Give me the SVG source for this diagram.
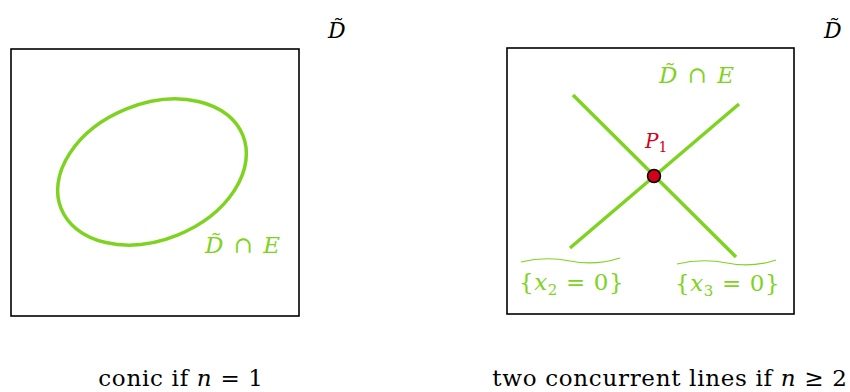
<svg xmlns="http://www.w3.org/2000/svg" width="850" height="392" viewBox="0 0 850 392">
<style>
.box{fill:none;stroke:#000;stroke-width:1.6}
.g{fill:none;stroke:#7ed321;stroke-width:3.5;stroke-linecap:butt}
.gt{fill:#7ed321;font-family:"DejaVu Serif",serif;font-size:23px}
.bt{fill:#000;font-family:"DejaVu Serif",serif;font-size:22px}
.cap{fill:#000;font-family:"DejaVu Serif",serif;font-size:23px;letter-spacing:0.7px}
.i{font-style:italic}
.wave{fill:none;stroke:#7ed321;stroke-width:1.2}
</style>
<g id="left-panel">
<rect class="box" x="11" y="49" width="288" height="267"/>
<ellipse class="g" cx="152" cy="172" rx="98" ry="68" transform="rotate(-22 152 172)"/>
<text class="gt" x="205" y="253" letter-spacing="1.5"><tspan class="i">D&#x303;</tspan> ∩ <tspan class="i">E</tspan></text>
<text class="bt i" x="328" y="38">D&#x303;</text>
<text class="cap" x="181" y="386" text-anchor="middle">conic if <tspan class="i">n</tspan> = 1</text>
</g>
<g id="right-panel">
<rect class="box" x="507" y="48" width="287" height="266"/>
<text class="bt i" x="824" y="38">D&#x303;</text>
<text class="cap" x="670" y="386" text-anchor="middle">two concurrent lines if <tspan class="i">n</tspan> ≥ 2</text>
</g>
<g id="connectors">
<line class="g" x1="573" y1="95" x2="736" y2="257"/>
<line class="g" x1="570" y1="248" x2="739" y2="104"/>
</g>
<g id="labels">
<text class="gt" x="659" y="83" letter-spacing="1.5"><tspan class="i">D&#x303;</tspan> ∩ <tspan class="i">E</tspan></text>
<text x="645" y="148" fill="#d0021b" font-family="DejaVu Serif,serif" font-size="20" font-style="italic">P<tspan font-size="14" font-style="normal" dy="4">1</tspan></text>
<path class="wave" d="M521,262 Q545,256 570,261 T620,258"/>
<text class="gt" x="519" y="290" letter-spacing="0.6">{<tspan class="i">x</tspan><tspan font-size="15" dy="5">2</tspan><tspan dy="-5"> = 0}</tspan></text>
<path class="wave" d="M677,264 Q702,258 727,263 T776,260"/>
<text class="gt" x="675" y="291" letter-spacing="0.6">{<tspan class="i">x</tspan><tspan font-size="15" dy="5">3</tspan><tspan dy="-5"> = 0}</tspan></text>
</g>
<g id="P1">
<circle cx="654" cy="176" r="6.5" fill="#d0021b" stroke="#000" stroke-width="1.5"/>
</g>
</svg>
